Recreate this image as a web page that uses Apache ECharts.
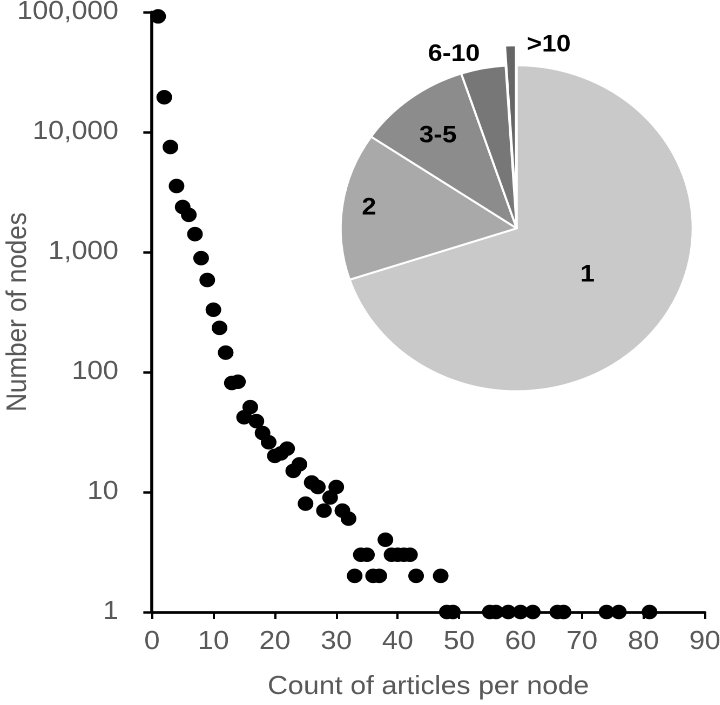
<!DOCTYPE html>
<html>
<head>
<meta charset="utf-8">
<script src="https://cdn.jsdelivr.net/npm/echarts@6/dist/echarts.min.js"></script>
<style>
  html, body { margin: 0; padding: 0; background: #fff; overflow: hidden; }
  #wrap { width: 720px; height: 705px; overflow: hidden; }
  #c { width: 666.67px; height: 705px; transform: scaleX(1.08); transform-origin: 0 0; }
</style>
</head>
<body>
<div id="wrap"><div id="c"></div></div>
<script>
// Scatter: count of articles per node (x) vs number of nodes (y)
const articleCounts = [1,2,3,4,5,6,7,8,9,10,11,12,13,14,15,16,17,18,19,20,21,22,23,24,25,26,27,28,29,30,31,32,33,34,35,36,37,38,39,40,41,42,43,47,48,49,55,56,58,60,62,66,67,74,76,81];
const nodeCounts    = [92000,19500,7500,3550,2370,2040,1410,890,585,330,233,145,81,83,42,51,39,31,26,20,21,23,15,17,8,12,11,7,9,11,7,6,2,3,3,2,2,4,3,3,3,3,2,2,1,1,1,1,1,1,1,1,1,1,1,1];

// Pie: share of nodes by article-count group
const pieCategories = ['1','2','3-5','6-10','>10'];
const pieShares     = [69.9, 14.6, 10.4, 4.1, 1.0];

// x-axis ticks
const xMin = 0, xMax = 90, xStep = 10;
// y-axis (log) range
const yMin = 1, yMax = 100000;

// styling (not data)
const pieColors = ['#c9c9c9', '#a9a9a9', '#8c8c8c', '#777777', '#666666'];
const labelShift = [[-3,-3],[-53,-9],[-22,-25],[-42,-91],[33,-79]];

const FONT = 'Liberation Sans, Arial, Helvetica, sans-serif';
const chart = echarts.init(document.getElementById('c'), null, { renderer: 'canvas', devicePixelRatio: 2 });

const option = {
  backgroundColor: '#ffffff',
  animation: false,
  grid: { left: 140.7, right: 14.4, top: 12, bottom: 93, containLabel: false, outerBoundsMode: 'none' },
  xAxis: {
    type: 'value', min: xMin, max: xMax, interval: xStep,
    name: 'Count of articles per node', nameLocation: 'middle', nameGap: 62,
    nameMoveOverlap: false,
    nameTextStyle: { color: '#595959', fontSize: 26, fontFamily: FONT },
    axisLine: { show: true, onZero: false, lineStyle: { color: '#000', width: 2.8 } },
    axisTick: { show: true, inside: false, length: 7, lineStyle: { color: '#000', width: 2 } },
    axisLabel: { color: '#595959', fontSize: 26, fontFamily: FONT, margin: 17 },
    splitLine: { show: false }
  },
  yAxis: {
    type: 'log', logBase: 10, min: yMin, max: yMax,
    name: 'Number of nodes', nameLocation: 'middle', nameGap: 111, nameRotate: 90,
    nameMoveOverlap: false,
    nameTextStyle: { color: '#595959', fontSize: 26, fontFamily: FONT },
    axisLine: { show: true, onZero: false, lineStyle: { color: '#000', width: 2.8 } },
    axisTick: { show: true, inside: false, length: 8, lineStyle: { color: '#000', width: 2.5 } },
    axisLabel: { color: '#595959', fontSize: 26, fontFamily: FONT, margin: 31,
      formatter: v => Math.round(v).toLocaleString('en-US') },
    splitLine: { show: false },
    minorTick: { show: false }
  },
  series: [
    {
      type: 'scatter',
      data: articleCounts.map((x, i) => [x, nodeCounts[i]]),
      symbol: 'circle', symbolSize: 14.5,
      itemStyle: { color: '#000000', opacity: 1 },
      z: 3
    },
    {
      type: 'pie',
      center: [478.4, 228.3],
      radius: [0, 163],
      startAngle: 90,
      clockwise: true,
      selectedMode: true,
      selectedOffset: 20,
      data: pieCategories.map((name, i) => ({
        name, value: pieShares[i],
        selected: i === pieCategories.length - 1,
        itemStyle: { color: pieColors[i] }
      })),
      itemStyle: { borderColor: '#ffffff', borderWidth: 2 },
      label: { show: true, position: 'inside', color: '#000', fontSize: 24, fontWeight: 'bold', fontFamily: FONT,
        formatter: p => p.name },
      labelLine: { show: false },
      labelLayout: p => ({ dx: labelShift[p.dataIndex][0], dy: labelShift[p.dataIndex][1], hideOverlap: false, moveOverlap: false }),
      emphasis: { disabled: true },
      select: { itemStyle: { color: pieColors[pieColors.length - 1] } },
      z: 2
    }
  ]
};
chart.setOption(option);
</script>
</body>
</html>
